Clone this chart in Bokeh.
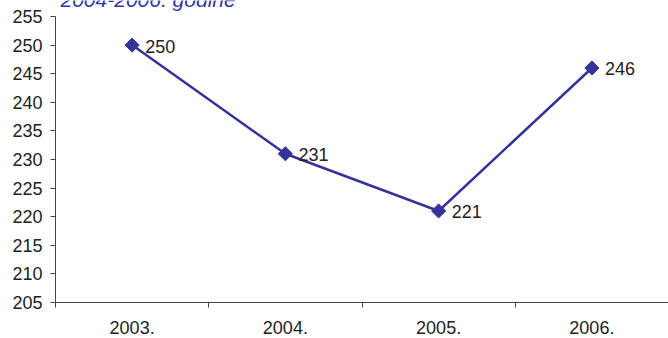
import numpy as np
from bokeh.plotting import figure
from bokeh.models import Range1d, FixedTicker, Label, ColumnDataSource, LabelSet
from bokeh.core.properties import value
from bokeh.embed import file_html
from bokeh.resources import INLINE

years = ["2003.", "2004.", "2005.", "2006."]
values = [250, 231, 221, 246]
y_ticks = list(range(205, 256, 5))
title_text = "2004-2006. godine"

xpos = [i + 0.5 for i in range(len(years))]
src = ColumnDataSource(dict(x=xpos, y=values, lab=[str(v) for v in values]))

# frame extends to the top of the canvas so the (clipped) title is drawn
y_top = 255 + 16 * 50 / 286
p = figure(width=668, height=338, output_backend="svg", toolbar_location=None,
           x_range=Range1d(0, len(years)), y_range=Range1d(205, y_top),
           min_border_left=55, min_border_right=0, min_border_top=0, min_border_bottom=36)
p.outline_line_color = None
p.grid.visible = False
p.background_fill_color = "white"
p.border_fill_color = "white"

color = "#333399"
p.line("x", "y", source=src, line_color=color, line_width=2.5)
p.scatter("x", "y", source=src, marker="square", angle=np.pi / 4, size=10,
          fill_color=color, line_color=color)

font = "Liberation Sans"
fs = "18px"
labels = LabelSet(x="x", y="y", text="lab", source=src, x_offset=13, y_offset=-1,
                  text_baseline="middle", text_font=value(font), text_font_size=fs,
                  text_color="#222222")
p.add_layout(labels)

ya = p.yaxis[0]
ya.ticker = FixedTicker(ticks=y_ticks, minor_ticks=[])
ya.bounds = (205, 255)
ya.major_tick_out = 5
ya.major_tick_in = 0
ya.minor_tick_out = 0
ya.minor_tick_in = 0
ya.major_label_text_font = font
ya.major_label_text_font_size = fs
ya.major_label_text_color = "#222222"
ya.axis_line_color = "#444444"
ya.major_tick_line_color = "#444444"
ya.major_label_standoff = 8

xa = p.xaxis[0]
xa.ticker = FixedTicker(ticks=xpos, minor_ticks=list(range(len(years) + 1)))
xa.major_label_overrides = {x: y for x, y in zip(xpos, years)}
xa.major_tick_out = 0
xa.major_tick_in = 0
xa.minor_tick_out = 5
xa.minor_tick_in = 0
xa.minor_tick_line_color = "#444444"
xa.axis_line_color = "#444444"
xa.major_label_text_font = font
xa.major_label_text_font_size = fs
xa.major_label_text_color = "#222222"
xa.major_label_standoff = 13

t = Label(x=5, y=303, x_units="screen", y_units="screen", text=title_text,
          text_font=font, text_font_style="italic", text_font_size="21px",
          text_color="#3333aa", text_baseline="alphabetic")
p.add_layout(t)

open("out.html", "w").write(file_html(p, INLINE))
